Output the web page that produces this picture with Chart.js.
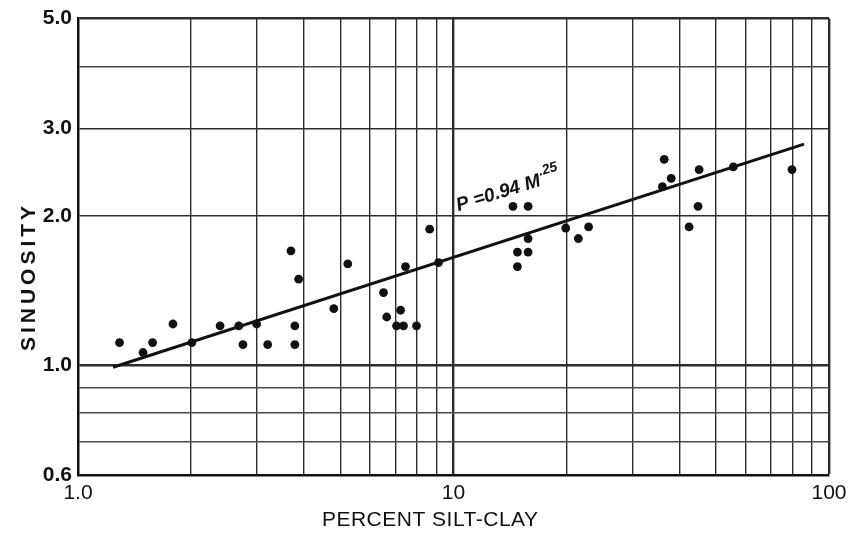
<!DOCTYPE html>
<html>
<head>
<meta charset="utf-8">
<script src="https://cdn.jsdelivr.net/npm/chart.js@4.4.1/dist/chart.umd.min.js"></script>
<style>
html,body{margin:0;padding:0;background:#fff;}
#wrap{width:860px;height:533px;position:relative;}
</style>
</head>
<body>
<div id="wrap"><canvas id="c"></canvas></div>
<script>
// ---- data ----
const siltClay = [1.29,1.49,1.58,1.79,2.01,2.39,2.68,2.75,2.99,3.20,3.78,3.78,3.69,3.87,4.80,5.23,6.51,6.64,7.23,7.05,7.36,7.97,7.45,8.64,9.12,14.4,15.8,15.8,14.8,15.8,14.8,19.9,21.5,22.9,36.0,36.4,38.0,42.4,44.8,45.1,55.6,79.7];
const sinuosity = [1.11,1.06,1.11,1.21,1.11,1.20,1.20,1.10,1.21,1.10,1.20,1.10,1.70,1.49,1.30,1.60,1.40,1.25,1.29,1.20,1.20,1.20,1.58,1.88,1.61,2.09,2.09,1.80,1.69,1.69,1.58,1.89,1.80,1.90,2.29,2.60,2.38,1.90,2.09,2.48,2.51,2.48];
const fitSiltClay = [1.24, 85.8];
const fitSinuosity = [0.99, 2.79];

const xGridValues = [1,2,3,4,5,6,7,8,9,10,20,30,40,50,60,70,80,90,100];
const yGridValues = [0.6,0.7,0.8,0.9,1,2,3,4,5];
const xLabelValues = [1,10,100];
const xLabelTexts = ['1.0','10','100'];
const yLabelValues = [0.6,1,2,3,5];
const yLabelTexts = ['0.6','1.0','2.0','3.0','5.0'];
const xTitle = 'PERCENT SILT-CLAY';
const yTitle = 'SINUOSITY';
const equationMain = 'P =0.94 M';
const equationExp = '.25';

const FONT = '"Liberation Sans", Arial, Helvetica, sans-serif';
const INK = '#111';

function labelFor(values, texts, v) {
  for (let i = 0; i < values.length; i++) {
    if (Math.abs(values[i] - v) < 1e-6 * Math.max(1, v)) return texts[i];
  }
  return '';
}
function isHeavy(v, list) {
  return list.some(h => Math.abs(h - v) < 1e-6 * Math.max(1, v));
}

const pointData = siltClay.map((x, i) => ({x: x, y: sinuosity[i]}));
const fitData = fitSiltClay.map((x, i) => ({x: x, y: fitSinuosity[i]}));

const paperText = {
  id: 'paperText',
  afterDraw(chart) {
    const {ctx, chartArea: a, scales} = chart;
    ctx.save();
    ctx.fillStyle = INK;
    // x title
    ctx.font = '21px ' + FONT;
    ctx.textAlign = 'center';
    ctx.textBaseline = 'middle';
    ctx.letterSpacing = '0.5px';
    ctx.fillText(xTitle, a.left + a.width * 0.469, a.bottom + 45);
    // y title
    ctx.save();
    ctx.translate(a.left - 49, a.top + a.height * 0.565);
    ctx.rotate(-Math.PI / 2);
    ctx.font = 'bold 21px ' + FONT;
    ctx.letterSpacing = '4px';
    ctx.fillText(yTitle, 0, 0);
    ctx.restore();
    // equation label along the fit line
    ctx.letterSpacing = '0px';
    const px = scales.x.getPixelForValue(10.3);
    const py = scales.y.getPixelForValue(2.044);
    ctx.translate(px, py);
    ctx.rotate(-17 * Math.PI / 180);
    ctx.textAlign = 'left';
    ctx.textBaseline = 'alphabetic';
    ctx.font = 'italic bold 19px ' + FONT;
    ctx.fillText(equationMain, 0, 0);
    const w = ctx.measureText(equationMain).width;
    ctx.font = 'italic bold 14px ' + FONT;
    ctx.fillText(equationExp, w + 1, -10);
    ctx.restore();
  }
};

new Chart(document.getElementById('c'), {
  type: 'scatter',
  data: {
    datasets: [
      {
        label: 'Fit',
        data: fitData,
        showLine: true,
        borderColor: INK,
        borderWidth: 3,
        pointRadius: 0,
        fill: false
      },
      {
        label: 'Sinuosity',
        data: pointData,
        backgroundColor: INK,
        borderWidth: 0,
        pointRadius: 4.4,
        pointHoverRadius: 4.4
      }
    ]
  },
  options: {
    responsive: true,
    maintainAspectRatio: false,
    animation: false,
    devicePixelRatio: 1,
    layout: {padding: {left: 0, right: 31, top: 17, bottom: 0}},
    plugins: {legend: {display: false}, tooltip: {enabled: false}},
    scales: {
      x: {
        type: 'logarithmic',
        min: 1, max: 100,
        afterBuildTicks: s => { s.ticks = xGridValues.map(v => ({value: v})); },
        afterFit: s => { s.height = 58; },
        border: {display: true, color: INK, width: 2.5},
        grid: {
          drawTicks: false,
          color: '#2e2e2e',
          lineWidth: c => (c.tick && isHeavy(c.tick.value, [10, 100])) ? 2.4 : 1.4
        },
        ticks: {
          autoSkip: false,
          maxRotation: 0,
          padding: 6,
          color: INK,
          font: {family: FONT, size: 21},
          callback: v => labelFor(xLabelValues, xLabelTexts, v)
        }
      },
      y: {
        type: 'logarithmic',
        min: 0.6, max: 5,
        afterBuildTicks: s => { s.ticks = yGridValues.map(v => ({value: v})); },
        afterFit: s => { s.width = 78; },
        border: {display: true, color: INK, width: 2.5},
        grid: {
          drawTicks: false,
          color: c => (c.tick && [0.7,0.8,0.9,4].some(h => Math.abs(h - c.tick.value) < 1e-6)) ? '#4a4a4a' : '#2e2e2e',
          lineWidth: c => (c.tick && isHeavy(c.tick.value, [1, 5])) ? 2.4 : 1.4
        },
        ticks: {
          autoSkip: false,
          padding: 6,
          color: INK,
          font: {family: FONT, size: 21, weight: 'bold'},
          callback: v => labelFor(yLabelValues, yLabelTexts, v)
        }
      }
    }
  },
  plugins: [paperText]
});
</script>
</body>
</html>
